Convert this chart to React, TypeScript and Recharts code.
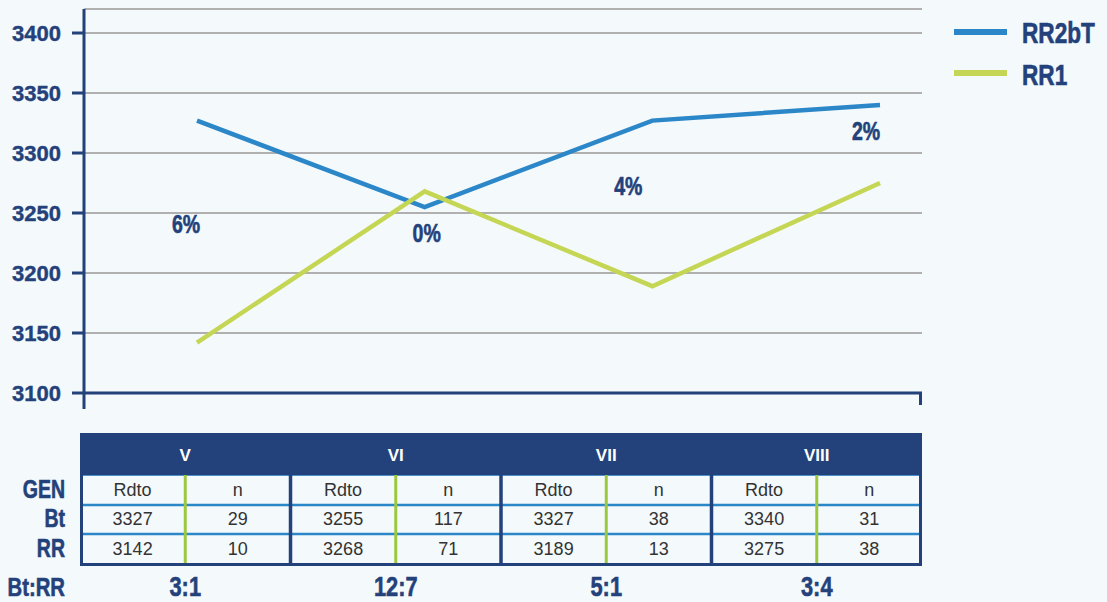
import React from 'react';
import { LineChart, Line, XAxis, YAxis, CartesianGrid, Legend, ReferenceDot } from 'recharts';

const generations = ['V', 'VI', 'VII', 'VIII'];
const btRdto = [3327, 3255, 3327, 3340];
const btN = [29, 117, 38, 31];
const rrRdto = [3142, 3268, 3189, 3275];
const rrN = [10, 71, 13, 38];
const ratios = ['3:1', '12:7', '5:1', '3:4'];
const pctLabels = ['6%', '0%', '4%', '2%'];
const pctAnchor = [3240, 3233, 3272, 3318];
const pctDx = [-11, 2, -24, -14];
const yTicks = [3100, 3150, 3200, 3250, 3300, 3350, 3400];
const rowLabels = ['GEN', 'Bt', 'RR'];
const seriesOrder = ['RR2bT', 'RR1'];

const NAVY = '#23417a';
const BLUE = '#2b87c8';
const GREEN = '#c5d655';
const DIV_GREEN = '#9cc83f';
const BG = '#f4f9fc';
const SANS = "'Liberation Sans', Arial, sans-serif";
const SX = 0.78;

const data = generations.map((g, i) => ({ gen: g, RR2bT: btRdto[i], RR1: rrRdto[i] }));

// Condensed bold text: Liberation Sans Bold squeezed horizontally
const NText = ({ x, y, size, anchor = 'start', children, baseline }: any) => (
  <text transform={`translate(${x},${y}) scale(${SX},1)`} x={0} y={0} textAnchor={anchor}
    dominantBaseline={baseline || 'auto'} fontFamily={SANS} fontWeight="bold" fontSize={size} fill={NAVY}
    stroke={NAVY} strokeWidth={0.6}>
    {children}
  </text>
);

const LegendContent = (props: any) => {
  const payload = [...(props.payload || [])].sort(
    (a: any, b: any) => seriesOrder.indexOf(a.value) - seriesOrder.indexOf(b.value)
  );
  return (
    <svg width={150} height={100} style={{ position: 'absolute', left: 0, top: 0, overflow: 'visible' }}>
      {payload.map((p: any, i: number) => (
        <g key={p.value}>
          <rect x={0} y={29 + i * 41} width={53} height={6} fill={p.color} />
          <NText x={68} y={43 + i * 42} size={29}>{p.value}</NText>
        </g>
      ))}
    </svg>
  );
};

const TableSvg = () => {
  const L = 80;
  const R = 922;
  const W = R - L;
  const gw = W / 4;
  const headTop = 433;
  const headBot = 475;
  const bodyBot = 566;
  const rowY = [490, 519, 549];
  return (
    <svg width={1107} height={602} style={{ position: 'absolute', left: 0, top: 0, pointerEvents: 'none' }}>
      <line x1={84} y1={393} x2={84} y2={409} stroke={NAVY} strokeWidth={3} />
      <line x1={920.5} y1={392} x2={920.5} y2={405} stroke={NAVY} strokeWidth={3} />
      <rect x={L} y={headTop} width={W} height={headBot - headTop} fill={NAVY} />
      <rect x={L} y={headBot} width={W} height={bodyBot - headBot} fill={BG} />
      <line x1={L} y1={headBot + 0.5} x2={R} y2={headBot + 0.5} stroke="#4b8fcb" strokeWidth={1} />
      <line x1={L} y1={505} x2={R} y2={505} stroke={BLUE} strokeWidth={2.5} />
      <line x1={L} y1={534} x2={R} y2={534} stroke={BLUE} strokeWidth={2.5} />
      {generations.map((g, i) => (
        <line key={'gd' + g} x1={L + i * gw + gw / 2} y1={headBot} x2={L + i * gw + gw / 2} y2={bodyBot - 2}
          stroke={DIV_GREEN} strokeWidth={3} />
      ))}
      {generations.slice(1).map((g, i) => (
        <line key={'gs' + g} x1={L + (i + 1) * gw} y1={headBot} x2={L + (i + 1) * gw} y2={bodyBot}
          stroke={NAVY} strokeWidth={3.5} />
      ))}
      <line x1={L + 1.5} y1={headTop} x2={L + 1.5} y2={bodyBot} stroke={NAVY} strokeWidth={3} />
      <line x1={R - 1.5} y1={headTop} x2={R - 1.5} y2={bodyBot} stroke={NAVY} strokeWidth={3} />
      <line x1={L} y1={bodyBot - 1.5} x2={R} y2={bodyBot - 1.5} stroke={NAVY} strokeWidth={3} />
      {generations.map((g, i) => (
        <text key={'h' + g} x={L + i * gw + gw / 2} y={455} textAnchor="middle" dominantBaseline="central"
          fontFamily={SANS} fontWeight="bold" fontSize={17} fill="#ffffff">
          {g}
        </text>
      ))}
      {generations.map((g, i) => {
        const c1 = L + i * gw + gw / 4;
        const c2 = L + i * gw + (3 * gw) / 4;
        const cells = [
          ['Rdto', 'n'],
          [String(btRdto[i]), String(btN[i])],
          [String(rrRdto[i]), String(rrN[i])],
        ];
        return (
          <g key={'c' + g}>
            {cells.map((row, r) => (
              <g key={r}>
                <text x={c1} y={rowY[r]} textAnchor="middle" dominantBaseline="central" fontFamily={SANS}
                  fontSize={18} fill="#333333">{row[0]}</text>
                <text x={c2} y={rowY[r]} textAnchor="middle" dominantBaseline="central" fontFamily={SANS}
                  fontSize={18} fill="#333333">{row[1]}</text>
              </g>
            ))}
          </g>
        );
      })}
      {rowLabels.map((lab, r) => (
        <NText key={lab} x={65} y={rowY[r]} anchor="end" baseline="central" size={25}>{lab}</NText>
      ))}
      <NText x={65} y={587} anchor="end" baseline="central" size={26}>Bt:RR</NText>
      {ratios.map((r, i) => (
        <NText key={'r' + i} x={L + i * gw + gw / 2} y={586} anchor="middle" baseline="central" size={28}>{r}</NText>
      ))}
    </svg>
  );
};

export default function App() {
  return (
    <div style={{ position: 'absolute', left: 0, top: 0, width: 1107, height: 602, background: BG, overflow: 'hidden' }}>
      <LineChart width={1107} height={420} data={data} margin={{ top: 9, right: 185, left: 0, bottom: 0 }}>
        <CartesianGrid horizontal vertical={false} stroke="#b0b0b0" strokeWidth={2} />
        <XAxis dataKey="gen" tick={false} tickLine={false} height={27}
          axisLine={{ stroke: NAVY, strokeWidth: 3 }} padding={{ left: 113, right: 42 }} />
        <YAxis width={84} domain={[3100, 3420]} ticks={yTicks} interval={0} tickSize={12} tickMargin={11}
          axisLine={{ stroke: NAVY, strokeWidth: 3 }} tickLine={{ stroke: NAVY, strokeWidth: 3 }}
          tick={{ fill: NAVY, fontSize: 22, fontWeight: 'bold', fontFamily: SANS, stroke: NAVY, strokeWidth: 0.4 }} />
        <Legend layout="vertical" align="right" verticalAlign="top"
          wrapperStyle={{ left: 954, top: 0, width: 0, height: 0 }} content={<LegendContent />} />
        <Line type="linear" dataKey="RR2bT" stroke={BLUE} strokeWidth={4.5} dot={false} activeDot={false}
          isAnimationActive={false} />
        <Line type="linear" dataKey="RR1" stroke={GREEN} strokeWidth={4.5} dot={false} activeDot={false}
          isAnimationActive={false} />
        {generations.map((g, i) => (
          <ReferenceDot key={'p' + g} x={g} y={pctAnchor[i]} r={1} ifOverflow="visible"
            shape={(p: any) => (
              <NText x={p.cx + pctDx[i]} y={p.cy} anchor="middle" baseline="central" size={25}>{pctLabels[i]}</NText>
            )} />
        ))}
      </LineChart>
      <TableSvg />
    </div>
  );
}
